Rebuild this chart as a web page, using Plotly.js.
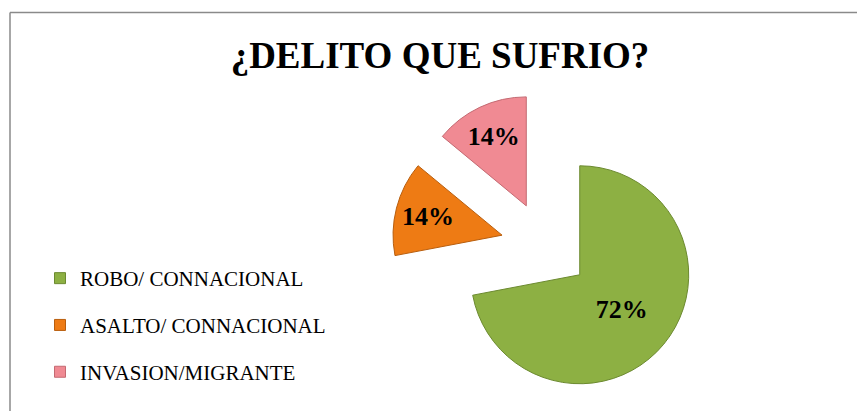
<!DOCTYPE html>
<html>
<head>
<meta charset="utf-8">
<script src="https://cdn.plot.ly/plotly-3.0.1.min.js"></script>
<style>html,body{margin:0;padding:0;background:#fff}#chart{width:857px;height:411px}</style>
</head>
<body>
<div id="chart"></div>
<script>
var categories = ["ROBO/ CONNACIONAL", "ASALTO/ CONNACIONAL", "INVASION/MIGRANTE"];
var values = [72, 14, 14];
var colors = ["#8DB043", "#EE7B14", "#F08A93"];
var lineColors = ["#6C8A30", "#B85E0E", "#C46A72"];
var chartTitle = "¿DELITO QUE SUFRIO?";

var serif = "Liberation Serif, Times New Roman, serif";

var traces = [{
  type: "pie",
  labels: categories,
  values: values,
  sort: false,
  direction: "clockwise",
  rotation: 0,
  pull: [0.41, 0.41, 0.41],
  marker: {colors: colors, line: {color: lineColors, width: 1}},
  textinfo: "percent",
  textposition: "inside",
  insidetextorientation: "horizontal",
  textfont: {family: serif, size: 26, color: "#000", weight: "bold"},
  hoverinfo: "label+percent",
  showlegend: false,
  domain: {x: [0.4570, 0.8156], y: [0.0268, 0.7747]}
}];

categories.forEach(function (c, i) {
  traces.push({
    type: "scatter", mode: "markers", x: [null], y: [null],
    name: c, legendgroup: "g" + i, showlegend: true, hoverinfo: "skip",
    marker: {symbol: "square", size: 11, color: colors[i], line: {color: lineColors[i], width: 1}}
  });
});

var layout = {
  width: 857, height: 411,
  margin: {l: 0, r: 0, t: 0, b: 0},
  paper_bgcolor: "#fff", plot_bgcolor: "#fff",
  font: {family: serif},
  title: {
    text: chartTitle,
    font: {family: serif, size: 37, color: "#000", weight: "bold"},
    x: 440 / 857, xanchor: "center", xref: "paper",
    y: 1 - 54.8 / 411, yanchor: "middle", yref: "container"
  },
  xaxis: {visible: false}, yaxis: {visible: false},
  showlegend: true,
  legend: {
    x: 40 / 857, xanchor: "left", y: 1 - 258 / 411, yanchor: "top",
    font: {family: serif, size: 21, color: "#000"},
    traceorder: "grouped", tracegroupgap: 16.5, bgcolor: "rgba(0,0,0,0)"
  },
  shapes: [
    {type: "line", xref: "paper", yref: "paper", x0: 10 / 857, x1: 1.01, y0: 1 - 12.5 / 411, y1: 1 - 12.5 / 411, line: {color: "#8a8a8a", width: 1.5}},
    {type: "line", xref: "paper", yref: "paper", x0: 10 / 857, x1: 10 / 857, y0: -0.01, y1: 1 - 12.5 / 411, line: {color: "#8a8a8a", width: 1.5}}
  ]
};

Plotly.newPlot("chart", traces, layout, {displayModeBar: false, staticPlot: true});
</script>
</body>
</html>
